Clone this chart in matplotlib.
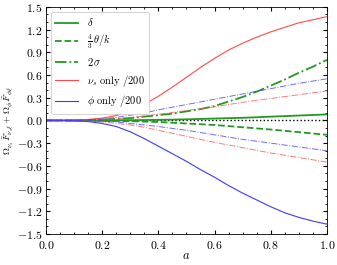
import matplotlib

matplotlib.use("Agg")
import matplotlib.pyplot as plt
from matplotlib.ticker import MultipleLocator

# scale factor a and curves (step 0.05)
a_vals = [0.0, 0.05, 0.1, 0.15, 0.2, 0.25, 0.3, 0.35, 0.4, 0.45, 0.5,
          0.55, 0.6, 0.65, 0.7, 0.75, 0.8, 0.85, 0.9, 0.95, 1.0]

delta = [0.0, 0.0, 0.0, 0.0, 0.001, 0.002, 0.003, 0.005, 0.008, 0.011, 0.015,
         0.02, 0.025, 0.03, 0.035, 0.042, 0.05, 0.057, 0.065, 0.072, 0.08]
theta_k = [0.0, 0.0, 0.0, -0.002, -0.005, -0.007, -0.01, -0.015, -0.02, -0.03, -0.04,
           -0.05, -0.06, -0.075, -0.09, -0.105, -0.12, -0.137, -0.155, -0.172, -0.19]
sigma2 = [0.0, 0.0, 0.0, 0.005, 0.01, 0.02, 0.03, 0.05, 0.07, 0.09, 0.12,
          0.15, 0.19, 0.25, 0.31, 0.38, 0.46, 0.54, 0.63, 0.71, 0.80]
nus_only = [0.0, 0.001, 0.005, 0.013, 0.03, 0.065, 0.12, 0.21, 0.32, 0.44, 0.57,
            0.70, 0.82, 0.93, 1.02, 1.10, 1.17, 1.23, 1.29, 1.33, 1.37]
phi_only = [0.0, -0.001, -0.005, -0.015, -0.04, -0.08, -0.15, -0.24, -0.34, -0.44, -0.54,
            -0.65, -0.75, -0.86, -0.96, -1.05, -1.14, -1.22, -1.28, -1.33, -1.37]

# dash-dot pairs (upper / lower branches)
nus_dd_up = [0.0, 0.0, 0.001, 0.004, 0.01, 0.02, 0.04, 0.06, 0.08, 0.105, 0.13,
             0.155, 0.18, 0.21, 0.24, 0.265, 0.29, 0.315, 0.34, 0.365, 0.39]
nus_dd_lo = [0.0, 0.0, -0.002, -0.008, -0.02, -0.04, -0.06, -0.09, -0.13, -0.17, -0.21,
             -0.25, -0.29, -0.325, -0.36, -0.395, -0.43, -0.46, -0.49, -0.52, -0.55]
phi_dd_up = [0.0, 0.0, 0.002, 0.008, 0.02, 0.04, 0.07, 0.10, 0.14, 0.175, 0.21,
             0.245, 0.28, 0.315, 0.35, 0.385, 0.42, 0.455, 0.49, 0.52, 0.55]
phi_dd_lo = [0.0, 0.0, -0.001, -0.004, -0.01, -0.02, -0.04, -0.06, -0.08, -0.105, -0.13,
             -0.16, -0.19, -0.22, -0.25, -0.275, -0.30, -0.325, -0.35, -0.375, -0.40]

GREEN = "#229922"
RED = "#ff4a4a"
BLUE = "#3a3aff"

plt.rcParams.update(
    {
        "font.family": "serif",
        "font.serif": ["cmr10", "DejaVu Serif"],
        "mathtext.fontset": "cm",
        "axes.formatter.use_mathtext": True,
        "font.size": 9,
        "xtick.labelsize": 8.5,
        "ytick.labelsize": 8.5,
        "xtick.direction": "in",
        "ytick.direction": "in",
        "xtick.top": True,
        "ytick.right": True,
        "xtick.minor.visible": True,
        "ytick.minor.visible": True,
        "xtick.major.size": 3,
        "ytick.major.size": 3,
        "xtick.minor.size": 1.5,
        "ytick.minor.size": 1.5,
        "axes.linewidth": 0.6,
    }
)

fig = plt.figure(figsize=(3.37, 2.65), dpi=100)
ax = fig.add_axes([0.1365, 0.117, 0.8335, 0.857])

ax.plot(a_vals, [0] * len(a_vals), color="black", ls=":", lw=1.0)

ax.plot(a_vals, delta, color=GREEN, lw=1.3, label=r"$\delta$")
ax.plot(a_vals, theta_k, color=GREEN, lw=1.3, ls="--", label=r"$\frac{4}{3}\,\theta/k$")
ax.plot(a_vals, sigma2, color=GREEN, lw=1.3, ls="-.", label=r"$2\,\sigma$")
ax.plot(a_vals, nus_only, color=RED, lw=0.8, label=r"$\nu_s$ only $/200$")
ax.plot(a_vals, phi_only, color=BLUE, lw=0.8, label=r"$\phi$ only $/200$")

for ys, col in ((nus_dd_up, RED), (nus_dd_lo, RED), (phi_dd_up, BLUE), (phi_dd_lo, BLUE)):
    ax.plot(a_vals, ys, color=col, lw=0.7, ls="-.", alpha=0.75)

ax.set_xlim(0, 1)
ax.set_ylim(-1.5, 1.5)
ax.xaxis.set_major_locator(MultipleLocator(0.2))
ax.xaxis.set_minor_locator(MultipleLocator(0.05))
ax.yaxis.set_major_locator(MultipleLocator(0.3))
ax.yaxis.set_minor_locator(MultipleLocator(0.1))
ax.tick_params(axis="y", pad=2.5)
ax.set_xlabel(r"$a$")
ax.set_ylabel(r"$\Omega_{\nu_s}\bar{F}_{\nu_s\ell}+\Omega_\phi\bar{F}_{\phi\ell}$", fontsize=7)
ax.xaxis.set_label_coords(0.5, -0.07)
ax.yaxis.set_label_coords(-0.108, 0.5)

leg = ax.legend(loc="upper left", fontsize=7.5, handlelength=2.2, framealpha=1.0,
                edgecolor="#cccccc", borderpad=0.4, labelspacing=0.45, handletextpad=0.8)
leg.get_frame().set_linewidth(0.6)

fig.savefig("out.png", dpi=100)
